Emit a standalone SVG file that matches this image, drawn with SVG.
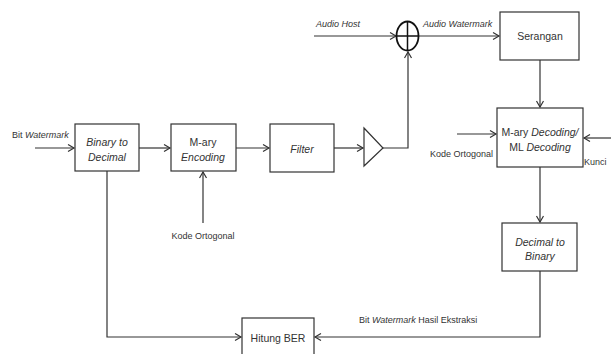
<svg xmlns="http://www.w3.org/2000/svg" width="611" height="354" viewBox="0 0 611 354">
<style>
.box{fill:#fff;stroke:#333;stroke-width:1.2}
.ln{fill:none;stroke:#333;stroke-width:1.2}
.t{font-family:"Liberation Sans",Arial,sans-serif;font-size:10.5px;fill:#333;text-anchor:middle}
.s{font-family:"Liberation Sans",Arial,sans-serif;font-size:9px;fill:#333}
.i{font-style:italic}
</style>
<defs>
<marker id="a" markerWidth="10" markerHeight="10" refX="7" refY="4" orient="auto" markerUnits="userSpaceOnUse">
<path d="M1,0.5 L7,4 L1,7.5" fill="none" stroke="#333" stroke-width="1.2"/>
</marker>
</defs>
<rect width="611" height="354" fill="#fff"/>
<g id="connectors">
<path class="ln" d="M35,148 H74" marker-end="url(#a)"/>
<path class="ln" d="M139,148 H170" marker-end="url(#a)"/>
<path class="ln" d="M236,148 H269" marker-end="url(#a)"/>
<path class="ln" d="M334,148 H363" marker-end="url(#a)"/>
<path class="ln" d="M383,148 H408 V52" marker-end="url(#a)"/>
<path class="ln" d="M203,223 V172" marker-end="url(#a)"/>
<path class="ln" d="M314,36 H396" marker-end="url(#a)"/>
<path class="ln" d="M419,36 H499" marker-end="url(#a)"/>
<path class="ln" d="M540,60 V107" marker-end="url(#a)"/>
<path class="ln" d="M457,134 H496" marker-end="url(#a)"/>
<path class="ln" d="M611,138 H584" marker-end="url(#a)"/>
<path class="ln" d="M540,167 V222" marker-end="url(#a)"/>
<path class="ln" d="M540,271 V337 H315" marker-end="url(#a)"/>
<path class="ln" d="M107,171 V337 H241" marker-end="url(#a)"/>
</g>
<g id="bin2dec">
<rect class="box" x="75" y="124" width="64" height="47"/>
<text class="t i" x="107" y="146">Binary to</text>
<text class="t i" x="107" y="161">Decimal</text>
</g>
<g id="encoding">
<rect class="box" x="171" y="124" width="65" height="47"/>
<text class="t" x="203" y="146">M-ary</text>
<text class="t i" x="203" y="161">Encoding</text>
</g>
<g id="filter">
<rect class="box" x="270" y="124" width="64" height="48"/>
<text class="t i" x="302" y="153">Filter</text>
</g>
<g id="amp">
<path class="box" d="M364,128 L383,148 L364,166 Z"/>
</g>
<g id="adder">
<ellipse cx="407.5" cy="36" rx="11" ry="14.5" fill="#fff" stroke="#111" stroke-width="1.8"/>
<path d="M396.5,36 H418.5 M407.5,21.5 V50.5" stroke="#111" stroke-width="1.5"/>
</g>
<g id="serangan">
<rect class="box" x="500" y="12" width="79" height="48"/>
<text class="t" x="540" y="40">Serangan</text>
</g>
<g id="decoding">
<rect class="box" x="497" y="108" width="86" height="59"/>
<text class="t" x="540" y="136">M-ary <tspan class="i">Decoding/</tspan></text>
<text class="t" x="540" y="151">ML <tspan class="i">Decoding</tspan></text>
</g>
<g id="dec2bin">
<rect class="box" x="502" y="223" width="75" height="48"/>
<text class="t i" x="540" y="246">Decimal to</text>
<text class="t i" x="540" y="260">Binary</text>
</g>
<g id="ber">
<rect class="box" x="242" y="318" width="72" height="40"/>
<text class="t" x="278" y="342">Hitung BER</text>
</g>
<g id="labels">
<text class="s" x="12" y="138">Bit <tspan class="i">Watermark</tspan></text>
<text class="s i" x="316" y="27">Audio Host</text>
<text class="s i" x="423" y="27">Audio Watermark</text>
<text class="s" x="430" y="157">Kode Ortogonal</text>
<text class="s" x="584" y="165">Kunci</text>
<text class="s" x="203" y="239" text-anchor="middle">Kode Ortogonal</text>
<text class="s" x="359" y="323">Bit <tspan class="i">Watermark</tspan> Hasil Ekstraksi</text>
</g>
</svg>
